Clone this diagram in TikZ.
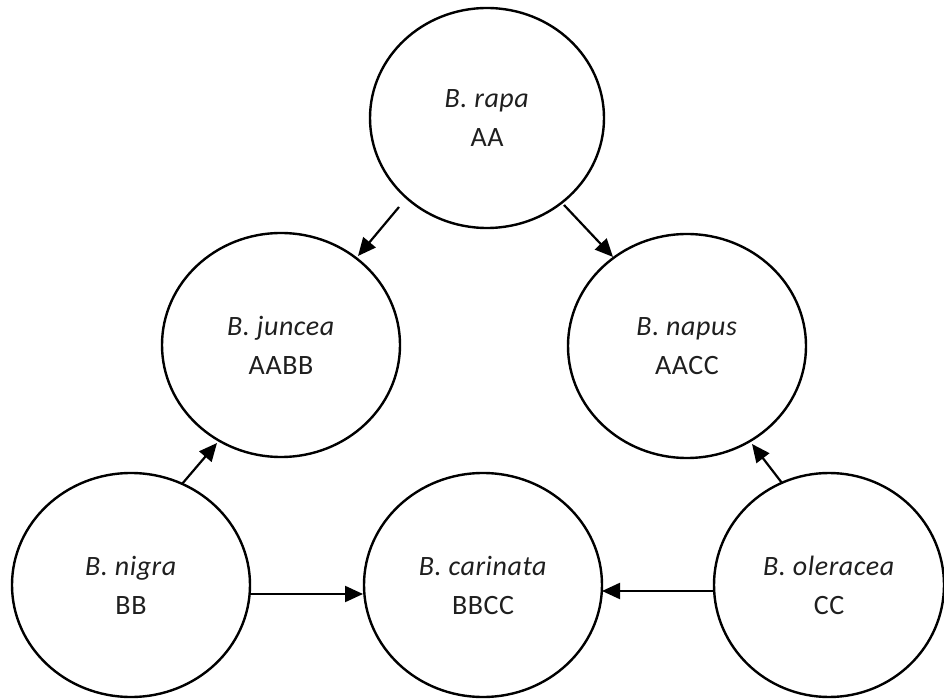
\documentclass[tikz,border=0pt]{standalone}
\usepackage{fontspec}
\setmainfont{Carlito}[LetterSpace=2]
\usetikzlibrary{shapes.geometric,arrows.meta}
\tikzset{
  sp/.style={ellipse, draw, line width=2.4pt, minimum width=238pt, minimum height=224pt,
    inner sep=0pt, align=center, font=\fontsize{28}{39}\selectfont, text=black!88},
  arr/.style={line width=2.2pt, -{Triangle[length=18pt,width=16pt]}}
}
\begin{document}
\begin{tikzpicture}[x=1pt,y=1pt]
\useasboundingbox (0,0) rectangle (944,699);
\node[sp, minimum width=234pt, minimum height=220pt] (rapa) at (487,581) {\textit{B. rapa}\\AA};
\node[sp] (juncea) at (281,354) {\textit{B. juncea}\\AABB};
\node[sp] (napus) at (687,353) {\textit{B. napus}\\AACC};
\node[sp] (nigra) at (131,114) {\textit{B. nigra}\\BB};
\node[sp] (carinata) at (483,114) {\textit{B. carinata}\\BBCC};
\node[sp, minimum width=230pt] (oleracea) at (829,114) {\textit{B. oleracea}\\CC};
\draw[arr] ([shift={(-88,-89)}]rapa.center) -- ([shift={(77,89)}]juncea.center);
\draw[arr] ([shift={(77,-87)}]rapa.center) -- ([shift={(-74,89)}]napus.center);
\draw[arr] ([shift={(51,101)}]nigra.center) -- ([shift={(-64,-98)}]juncea.center);
\draw[arr] ([shift={(-47,102)}]oleracea.center) -- ([shift={(65,-98)}]napus.center);
\draw[arr] ([shift={(119,-9)}]nigra.center) -- ([shift={(-120,-9)}]carinata.center);
\draw[arr] ([shift={(-115,-6)}]oleracea.center) -- ([shift={(119,-6)}]carinata.center);
\end{tikzpicture}
\end{document}
